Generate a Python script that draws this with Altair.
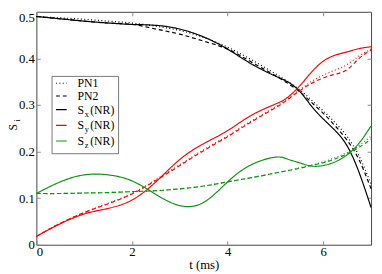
import altair as alt
import pandas as pd

# ---------------- data ----------------
t = [0, 0.5, 1, 1.5, 2, 2.5, 3, 3.5, 4, 4.5, 5, 5.25, 5.5, 5.75, 6, 6.25, 6.5, 6.75, 7]

sx_nr = [0.490, 0.485, 0.480, 0.476, 0.473, 0.471, 0.463, 0.446, 0.420, 0.388, 0.362, 0.350, 0.330, 0.298, 0.270, 0.245, 0.212, 0.155, 0.080]
sx_pn1 = [0.490, 0.487, 0.484, 0.480, 0.476, 0.469, 0.460, 0.445, 0.424, 0.397, 0.367, 0.351, 0.333, 0.311, 0.287, 0.262, 0.232, 0.190, 0.130]
sx_pn2 = [0.490, 0.485, 0.480, 0.476, 0.473, 0.463, 0.452, 0.437, 0.420, 0.392, 0.363, 0.347, 0.329, 0.306, 0.282, 0.255, 0.224, 0.182, 0.120]

sy_nr = [0.018, 0.045, 0.066, 0.078, 0.096, 0.135, 0.183, 0.217, 0.245, 0.278, 0.302, 0.316, 0.340, 0.370, 0.394, 0.407, 0.414, 0.421, 0.425]
sy_pn1 = [0.018, 0.046, 0.069, 0.089, 0.110, 0.140, 0.172, 0.204, 0.234, 0.266, 0.296, 0.313, 0.332, 0.350, 0.364, 0.375, 0.387, 0.405, 0.420]
sy_pn2 = [0.018, 0.046, 0.069, 0.088, 0.109, 0.138, 0.170, 0.202, 0.232, 0.264, 0.294, 0.311, 0.330, 0.346, 0.358, 0.366, 0.376, 0.400, 0.418]

sz_nr = [0.110, 0.135, 0.150, 0.150, 0.137, 0.108, 0.084, 0.091, 0.135, 0.172, 0.188, 0.184, 0.176, 0.169, 0.170, 0.178, 0.193, 0.218, 0.255]
sz_pn1 = [0.110, 0.110, 0.111, 0.112, 0.114, 0.116, 0.120, 0.126, 0.135, 0.144, 0.154, 0.159, 0.165, 0.171, 0.178, 0.187, 0.198, 0.213, 0.233]
sz_pn2 = [0.110, 0.110, 0.111, 0.112, 0.114, 0.116, 0.120, 0.126, 0.135, 0.144, 0.154, 0.159, 0.164, 0.170, 0.176, 0.184, 0.195, 0.209, 0.227]

components = ["x", "y", "z"]
models = ["PN1", "PN2", "NR"]
x_ticks = [0, 2, 4, 6]
y_ticks = [0, 0.1, 0.2, 0.3, 0.4, 0.5]
legend_main = ["PN1", "PN2", "S", "S", "S"]
legend_sub = ["", "", "x", "y", "z"]
legend_tail = ["", "", "(NR)", "(NR)", "(NR)"]

# ---------------- styles ----------------
FONT = "Liberation Serif"
COLORS = ["#000000", "#ff0000", "#0a960a"]
DASHES = [[1, 2.5], [4, 3], [1, 0]]
W, H = 342, 238

series = {
    ("x", "PN1"): sx_pn1, ("x", "PN2"): sx_pn2, ("x", "NR"): sx_nr,
    ("y", "PN1"): sy_pn1, ("y", "PN2"): sy_pn2, ("y", "NR"): sy_nr,
    ("z", "PN1"): sz_pn1, ("z", "PN2"): sz_pn2, ("z", "NR"): sz_nr,
}
rows = []
for (c, m), vals in series.items():
    for ti, v in zip(t, vals):
        rows.append({"t": ti, "S": v, "comp": c, "model": m, "series": c + m})
df = pd.DataFrame(rows)

x_scale = alt.Scale(domain=[0, 7], nice=False, zero=False)
y_scale = alt.Scale(domain=[0, 0.5], nice=False, zero=False)

tick_style = dict(tickColor="#888888", tickSize=4, tickWidth=1, offset=-4,
                  domain=False, grid=False)

lines = alt.Chart(df).mark_line(strokeWidth=1.2, interpolate="natural").encode(
    x=alt.X("t:Q", scale=x_scale,
            axis=alt.Axis(orient="bottom", values=x_ticks, title="t (ms)",
                          labelPadding=1, titlePadding=0, **tick_style)),
    y=alt.Y("S:Q", scale=y_scale,
            axis=alt.Axis(orient="left", values=y_ticks, title=None,
                          labelExpr="datum.value == 0 ? '0' : format(datum.value, '.1f')",
                          labelPadding=2,
                          labelBaseline=alt.condition("datum.value >= 0.5", alt.value("top"), alt.value("middle")),
                          **tick_style)),
    color=alt.Color("comp:N", scale=alt.Scale(domain=components, range=COLORS), legend=None),
    strokeDash=alt.StrokeDash("model:N", scale=alt.Scale(domain=models, range=DASHES), legend=None),
    detail="series:N",
)

mirror = alt.Chart(df).mark_line(opacity=0).encode(
    x=alt.X("t:Q", scale=x_scale,
            axis=alt.Axis(orient="top", values=x_ticks, title=None, labels=False, **tick_style)),
    y=alt.Y("S:Q", scale=y_scale,
            axis=alt.Axis(orient="right", values=y_ticks, title=None, labels=False, **tick_style)),
    detail="series:N",
)

one = pd.DataFrame({"k": [0]})
layers = [lines, mirror]

# legend box
layers.append(alt.Chart(one).mark_rect(fill="white", stroke="#777777", strokeWidth=1).encode(
    x=alt.value(16), x2=alt.value(84), y=alt.value(66), y2=alt.value(145)))

leg_y = [73, 86, 100, 116, 132]
leg_color = [COLORS[0], COLORS[0], COLORS[0], COLORS[1], COLORS[2]]
leg_dash = [DASHES[0], DASHES[1], DASHES[2], DASHES[2], DASHES[2]]
for i in range(5):
    yy = leg_y[i]
    layers.append(alt.Chart(one).mark_rule(color=leg_color[i], strokeDash=leg_dash[i], strokeWidth=1.2).encode(
        x=alt.value(20), x2=alt.value(31), y=alt.value(yy)))
    layers.append(alt.Chart(one).mark_text(font=FONT, fontSize=12, align="left", baseline="middle", color="black").encode(
        x=alt.value(42), y=alt.value(yy), text=alt.value(legend_main[i])))
    if legend_sub[i]:
        layers.append(alt.Chart(one).mark_text(font=FONT, fontSize=8.5, align="left", baseline="middle", color="black").encode(
            x=alt.value(49.5), y=alt.value(yy + 4), text=alt.value(legend_sub[i])))
        layers.append(alt.Chart(one).mark_text(font=FONT, fontSize=12, align="left", baseline="middle", color="black").encode(
            x=alt.value(55), y=alt.value(yy), text=alt.value(legend_tail[i])))

# y-axis title S_i (rotated)
layers.append(alt.Chart(one).mark_text(font=FONT, fontSize=12, angle=270, align="center", baseline="middle", color="black").encode(
    x=alt.value(-24), y=alt.value(118), text=alt.value("S")))
layers.append(alt.Chart(one).mark_text(font=FONT, fontSize=8.5, angle=270, align="center", baseline="middle", color="black").encode(
    x=alt.value(-20), y=alt.value(111), text=alt.value("i")))

chart = alt.layer(*layers).resolve_axis(x="independent", y="independent").properties(
    width=W, height=H,
    autosize=alt.AutoSizeParams(type="none"),
    padding={"left": 29, "top": 1, "right": 3, "bottom": 27},
).configure_axis(
    labelFont=FONT, labelFontSize=13, labelColor="black",
    titleFont=FONT, titleFontSize=13, titleColor="black", titleFontWeight="normal",
).configure_view(stroke="#444444", strokeWidth=1)

chart.save("out.html", embed_options={"renderer": "svg", "actions": False})
